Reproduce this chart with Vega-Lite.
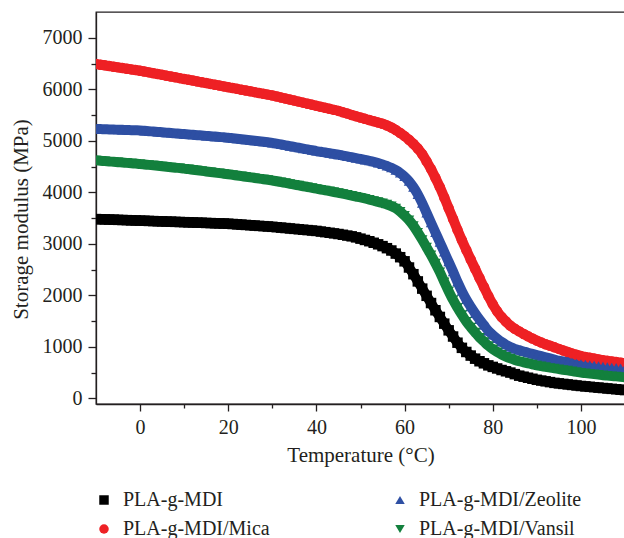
{
"$schema":"https://vega.github.io/schema/vega-lite/v6.json",
"width":529,"height":392,
"autosize":"none",
"padding":{"left":96,"top":12,"right":0,"bottom":134},
"background":"white",
"config":{"view":{"stroke":"#231f20","strokeWidth":1.3},"font":"Liberation Serif",
"axis":{"domainColor":"#231f20","domainWidth":1.3,"tickColor":"#231f20","tickWidth":1.3,"labelFont":"Liberation Serif","labelFontSize":20,"labelColor":"#231f20","titleFont":"Liberation Serif","titleFontSize":21,"titleFontWeight":"normal","titleColor":"#231f20","grid":false},
"legend":{"title":null,"orient":"none","legendX":-2,"legendY":478,"columns":2,"columnPadding":120,"rowPadding":9,"symbolSize":90,"symbolStrokeWidth":0,"labelFontSize":20,"labelFont":"Liberation Serif","labelColor":"#231f20","labelOffset":9,"labelLimit":0,"padding":0}},
"data":{"values":[
{"s":"PLA-g-MDI","t":-10,"v":3480},{"s":"PLA-g-MDI","t":-9,"v":3477},{"s":"PLA-g-MDI","t":-8,"v":3474},{"s":"PLA-g-MDI","t":-7,"v":3471},{"s":"PLA-g-MDI","t":-6,"v":3468},{"s":"PLA-g-MDI","t":-5,"v":3465},{"s":"PLA-g-MDI","t":-4,"v":3462},{"s":"PLA-g-MDI","t":-3,"v":3459},{"s":"PLA-g-MDI","t":-2,"v":3456},{"s":"PLA-g-MDI","t":-1,"v":3453},
{"s":"PLA-g-MDI","t":0,"v":3450},{"s":"PLA-g-MDI","t":1,"v":3447},{"s":"PLA-g-MDI","t":2,"v":3444},{"s":"PLA-g-MDI","t":3,"v":3441},{"s":"PLA-g-MDI","t":4,"v":3438},{"s":"PLA-g-MDI","t":5,"v":3435},{"s":"PLA-g-MDI","t":6,"v":3432},{"s":"PLA-g-MDI","t":7,"v":3429},{"s":"PLA-g-MDI","t":8,"v":3426},{"s":"PLA-g-MDI","t":9,"v":3423},
{"s":"PLA-g-MDI","t":10,"v":3420},{"s":"PLA-g-MDI","t":11,"v":3417},{"s":"PLA-g-MDI","t":12,"v":3414},{"s":"PLA-g-MDI","t":13,"v":3411},{"s":"PLA-g-MDI","t":14,"v":3408},{"s":"PLA-g-MDI","t":15,"v":3405},{"s":"PLA-g-MDI","t":16,"v":3402},{"s":"PLA-g-MDI","t":17,"v":3399},{"s":"PLA-g-MDI","t":18,"v":3396},{"s":"PLA-g-MDI","t":19,"v":3393},
{"s":"PLA-g-MDI","t":20,"v":3390},{"s":"PLA-g-MDI","t":21,"v":3384},{"s":"PLA-g-MDI","t":22,"v":3378},{"s":"PLA-g-MDI","t":23,"v":3372},{"s":"PLA-g-MDI","t":24,"v":3366},{"s":"PLA-g-MDI","t":25,"v":3360},{"s":"PLA-g-MDI","t":26,"v":3354},{"s":"PLA-g-MDI","t":27,"v":3348},{"s":"PLA-g-MDI","t":28,"v":3342},{"s":"PLA-g-MDI","t":29,"v":3336},
{"s":"PLA-g-MDI","t":30,"v":3330},{"s":"PLA-g-MDI","t":31,"v":3322},{"s":"PLA-g-MDI","t":32,"v":3314},{"s":"PLA-g-MDI","t":33,"v":3306},{"s":"PLA-g-MDI","t":34,"v":3298},{"s":"PLA-g-MDI","t":35,"v":3290},{"s":"PLA-g-MDI","t":36,"v":3282},{"s":"PLA-g-MDI","t":37,"v":3274},{"s":"PLA-g-MDI","t":38,"v":3266},{"s":"PLA-g-MDI","t":39,"v":3258},
{"s":"PLA-g-MDI","t":40,"v":3250},{"s":"PLA-g-MDI","t":41,"v":3238},{"s":"PLA-g-MDI","t":42,"v":3226},{"s":"PLA-g-MDI","t":43,"v":3214},{"s":"PLA-g-MDI","t":44,"v":3202},{"s":"PLA-g-MDI","t":45,"v":3190},{"s":"PLA-g-MDI","t":46,"v":3175},{"s":"PLA-g-MDI","t":47,"v":3160},{"s":"PLA-g-MDI","t":48,"v":3145},{"s":"PLA-g-MDI","t":49,"v":3125},
{"s":"PLA-g-MDI","t":50,"v":3100},{"s":"PLA-g-MDI","t":51,"v":3075},{"s":"PLA-g-MDI","t":52,"v":3050},{"s":"PLA-g-MDI","t":53,"v":3020},{"s":"PLA-g-MDI","t":54,"v":2990},{"s":"PLA-g-MDI","t":55,"v":2955},{"s":"PLA-g-MDI","t":56,"v":2915},{"s":"PLA-g-MDI","t":57,"v":2870},{"s":"PLA-g-MDI","t":58,"v":2810},{"s":"PLA-g-MDI","t":59,"v":2740},
{"s":"PLA-g-MDI","t":60,"v":2660},{"s":"PLA-g-MDI","t":61,"v":2540},{"s":"PLA-g-MDI","t":62,"v":2410},{"s":"PLA-g-MDI","t":63,"v":2270},{"s":"PLA-g-MDI","t":64,"v":2130},{"s":"PLA-g-MDI","t":65,"v":1990},{"s":"PLA-g-MDI","t":66,"v":1850},{"s":"PLA-g-MDI","t":67,"v":1710},{"s":"PLA-g-MDI","t":68,"v":1580},{"s":"PLA-g-MDI","t":69,"v":1450},
{"s":"PLA-g-MDI","t":70,"v":1320},{"s":"PLA-g-MDI","t":71,"v":1200},{"s":"PLA-g-MDI","t":72,"v":1080},{"s":"PLA-g-MDI","t":73,"v":980},{"s":"PLA-g-MDI","t":74,"v":900},{"s":"PLA-g-MDI","t":75,"v":830},{"s":"PLA-g-MDI","t":76,"v":770},{"s":"PLA-g-MDI","t":77,"v":720},{"s":"PLA-g-MDI","t":78,"v":680},{"s":"PLA-g-MDI","t":79,"v":640},
{"s":"PLA-g-MDI","t":80,"v":610},{"s":"PLA-g-MDI","t":81,"v":580},{"s":"PLA-g-MDI","t":82,"v":550},{"s":"PLA-g-MDI","t":83,"v":525},{"s":"PLA-g-MDI","t":84,"v":500},{"s":"PLA-g-MDI","t":85,"v":470},{"s":"PLA-g-MDI","t":86,"v":440},{"s":"PLA-g-MDI","t":87,"v":420},{"s":"PLA-g-MDI","t":88,"v":400},{"s":"PLA-g-MDI","t":89,"v":380},
{"s":"PLA-g-MDI","t":90,"v":360},{"s":"PLA-g-MDI","t":91,"v":345},{"s":"PLA-g-MDI","t":92,"v":330},{"s":"PLA-g-MDI","t":93,"v":315},{"s":"PLA-g-MDI","t":94,"v":300},{"s":"PLA-g-MDI","t":95,"v":290},{"s":"PLA-g-MDI","t":96,"v":280},{"s":"PLA-g-MDI","t":97,"v":270},{"s":"PLA-g-MDI","t":98,"v":260},{"s":"PLA-g-MDI","t":99,"v":250},
{"s":"PLA-g-MDI","t":100,"v":240},{"s":"PLA-g-MDI","t":101,"v":232},{"s":"PLA-g-MDI","t":102,"v":224},{"s":"PLA-g-MDI","t":103,"v":216},{"s":"PLA-g-MDI","t":104,"v":208},{"s":"PLA-g-MDI","t":105,"v":200},{"s":"PLA-g-MDI","t":106,"v":192},{"s":"PLA-g-MDI","t":107,"v":184},{"s":"PLA-g-MDI","t":108,"v":176},{"s":"PLA-g-MDI","t":109,"v":168},{"s":"PLA-g-MDI","t":110,"v":160},
{"s":"PLA-g-MDI/Mica","t":-10,"v":6490},{"s":"PLA-g-MDI/Mica","t":-9,"v":6477},{"s":"PLA-g-MDI/Mica","t":-8,"v":6464},{"s":"PLA-g-MDI/Mica","t":-7,"v":6451},{"s":"PLA-g-MDI/Mica","t":-6,"v":6438},{"s":"PLA-g-MDI/Mica","t":-5,"v":6425},{"s":"PLA-g-MDI/Mica","t":-4,"v":6412},{"s":"PLA-g-MDI/Mica","t":-3,"v":6399},{"s":"PLA-g-MDI/Mica","t":-2,"v":6386},{"s":"PLA-g-MDI/Mica","t":-1,"v":6373},
{"s":"PLA-g-MDI/Mica","t":0,"v":6360},{"s":"PLA-g-MDI/Mica","t":1,"v":6344},{"s":"PLA-g-MDI/Mica","t":2,"v":6328},{"s":"PLA-g-MDI/Mica","t":3,"v":6312},{"s":"PLA-g-MDI/Mica","t":4,"v":6296},{"s":"PLA-g-MDI/Mica","t":5,"v":6280},{"s":"PLA-g-MDI/Mica","t":6,"v":6264},{"s":"PLA-g-MDI/Mica","t":7,"v":6248},{"s":"PLA-g-MDI/Mica","t":8,"v":6232},{"s":"PLA-g-MDI/Mica","t":9,"v":6216},
{"s":"PLA-g-MDI/Mica","t":10,"v":6200},{"s":"PLA-g-MDI/Mica","t":11,"v":6184},{"s":"PLA-g-MDI/Mica","t":12,"v":6168},{"s":"PLA-g-MDI/Mica","t":13,"v":6152},{"s":"PLA-g-MDI/Mica","t":14,"v":6136},{"s":"PLA-g-MDI/Mica","t":15,"v":6120},{"s":"PLA-g-MDI/Mica","t":16,"v":6104},{"s":"PLA-g-MDI/Mica","t":17,"v":6088},{"s":"PLA-g-MDI/Mica","t":18,"v":6072},{"s":"PLA-g-MDI/Mica","t":19,"v":6056},
{"s":"PLA-g-MDI/Mica","t":20,"v":6040},{"s":"PLA-g-MDI/Mica","t":21,"v":6024},{"s":"PLA-g-MDI/Mica","t":22,"v":6008},{"s":"PLA-g-MDI/Mica","t":23,"v":5992},{"s":"PLA-g-MDI/Mica","t":24,"v":5976},{"s":"PLA-g-MDI/Mica","t":25,"v":5960},{"s":"PLA-g-MDI/Mica","t":26,"v":5944},{"s":"PLA-g-MDI/Mica","t":27,"v":5928},{"s":"PLA-g-MDI/Mica","t":28,"v":5912},{"s":"PLA-g-MDI/Mica","t":29,"v":5896},
{"s":"PLA-g-MDI/Mica","t":30,"v":5880},{"s":"PLA-g-MDI/Mica","t":31,"v":5860},{"s":"PLA-g-MDI/Mica","t":32,"v":5840},{"s":"PLA-g-MDI/Mica","t":33,"v":5820},{"s":"PLA-g-MDI/Mica","t":34,"v":5800},{"s":"PLA-g-MDI/Mica","t":35,"v":5780},{"s":"PLA-g-MDI/Mica","t":36,"v":5760},{"s":"PLA-g-MDI/Mica","t":37,"v":5740},{"s":"PLA-g-MDI/Mica","t":38,"v":5720},{"s":"PLA-g-MDI/Mica","t":39,"v":5700},
{"s":"PLA-g-MDI/Mica","t":40,"v":5680},{"s":"PLA-g-MDI/Mica","t":41,"v":5660},{"s":"PLA-g-MDI/Mica","t":42,"v":5640},{"s":"PLA-g-MDI/Mica","t":43,"v":5620},{"s":"PLA-g-MDI/Mica","t":44,"v":5600},{"s":"PLA-g-MDI/Mica","t":45,"v":5580},{"s":"PLA-g-MDI/Mica","t":46,"v":5554},{"s":"PLA-g-MDI/Mica","t":47,"v":5528},{"s":"PLA-g-MDI/Mica","t":48,"v":5502},{"s":"PLA-g-MDI/Mica","t":49,"v":5476},
{"s":"PLA-g-MDI/Mica","t":50,"v":5450},{"s":"PLA-g-MDI/Mica","t":51,"v":5426},{"s":"PLA-g-MDI/Mica","t":52,"v":5402},{"s":"PLA-g-MDI/Mica","t":53,"v":5378},{"s":"PLA-g-MDI/Mica","t":54,"v":5354},{"s":"PLA-g-MDI/Mica","t":55,"v":5330},{"s":"PLA-g-MDI/Mica","t":56,"v":5298},{"s":"PLA-g-MDI/Mica","t":57,"v":5258},{"s":"PLA-g-MDI/Mica","t":58,"v":5210},{"s":"PLA-g-MDI/Mica","t":59,"v":5152},
{"s":"PLA-g-MDI/Mica","t":60,"v":5090},{"s":"PLA-g-MDI/Mica","t":61,"v":5020},{"s":"PLA-g-MDI/Mica","t":62,"v":4940},{"s":"PLA-g-MDI/Mica","t":63,"v":4850},{"s":"PLA-g-MDI/Mica","t":64,"v":4740},{"s":"PLA-g-MDI/Mica","t":65,"v":4600},{"s":"PLA-g-MDI/Mica","t":66,"v":4450},{"s":"PLA-g-MDI/Mica","t":67,"v":4280},{"s":"PLA-g-MDI/Mica","t":68,"v":4100},{"s":"PLA-g-MDI/Mica","t":69,"v":3900},
{"s":"PLA-g-MDI/Mica","t":70,"v":3690},{"s":"PLA-g-MDI/Mica","t":71,"v":3480},{"s":"PLA-g-MDI/Mica","t":72,"v":3270},{"s":"PLA-g-MDI/Mica","t":73,"v":3070},{"s":"PLA-g-MDI/Mica","t":74,"v":2880},{"s":"PLA-g-MDI/Mica","t":75,"v":2695},{"s":"PLA-g-MDI/Mica","t":76,"v":2515},{"s":"PLA-g-MDI/Mica","t":77,"v":2335},{"s":"PLA-g-MDI/Mica","t":78,"v":2160},{"s":"PLA-g-MDI/Mica","t":79,"v":1985},
{"s":"PLA-g-MDI/Mica","t":80,"v":1825},{"s":"PLA-g-MDI/Mica","t":81,"v":1690},{"s":"PLA-g-MDI/Mica","t":82,"v":1580},{"s":"PLA-g-MDI/Mica","t":83,"v":1490},{"s":"PLA-g-MDI/Mica","t":84,"v":1410},{"s":"PLA-g-MDI/Mica","t":85,"v":1350},{"s":"PLA-g-MDI/Mica","t":86,"v":1300},{"s":"PLA-g-MDI/Mica","t":87,"v":1250},{"s":"PLA-g-MDI/Mica","t":88,"v":1205},{"s":"PLA-g-MDI/Mica","t":89,"v":1160},
{"s":"PLA-g-MDI/Mica","t":90,"v":1120},{"s":"PLA-g-MDI/Mica","t":91,"v":1085},{"s":"PLA-g-MDI/Mica","t":92,"v":1050},{"s":"PLA-g-MDI/Mica","t":93,"v":1020},{"s":"PLA-g-MDI/Mica","t":94,"v":990},{"s":"PLA-g-MDI/Mica","t":95,"v":960},{"s":"PLA-g-MDI/Mica","t":96,"v":930},{"s":"PLA-g-MDI/Mica","t":97,"v":900},{"s":"PLA-g-MDI/Mica","t":98,"v":872},{"s":"PLA-g-MDI/Mica","t":99,"v":845},
{"s":"PLA-g-MDI/Mica","t":100,"v":820},{"s":"PLA-g-MDI/Mica","t":101,"v":804},{"s":"PLA-g-MDI/Mica","t":102,"v":788},{"s":"PLA-g-MDI/Mica","t":103,"v":772},{"s":"PLA-g-MDI/Mica","t":104,"v":756},{"s":"PLA-g-MDI/Mica","t":105,"v":740},{"s":"PLA-g-MDI/Mica","t":106,"v":728},{"s":"PLA-g-MDI/Mica","t":107,"v":716},{"s":"PLA-g-MDI/Mica","t":108,"v":704},{"s":"PLA-g-MDI/Mica","t":109,"v":692},{"s":"PLA-g-MDI/Mica","t":110,"v":680},
{"s":"PLA-g-MDI/Zeolite","t":-10,"v":5230},{"s":"PLA-g-MDI/Zeolite","t":-9,"v":5227},{"s":"PLA-g-MDI/Zeolite","t":-8,"v":5224},{"s":"PLA-g-MDI/Zeolite","t":-7,"v":5221},{"s":"PLA-g-MDI/Zeolite","t":-6,"v":5218},{"s":"PLA-g-MDI/Zeolite","t":-5,"v":5215},{"s":"PLA-g-MDI/Zeolite","t":-4,"v":5212},{"s":"PLA-g-MDI/Zeolite","t":-3,"v":5209},{"s":"PLA-g-MDI/Zeolite","t":-2,"v":5206},{"s":"PLA-g-MDI/Zeolite","t":-1,"v":5203},
{"s":"PLA-g-MDI/Zeolite","t":0,"v":5200},{"s":"PLA-g-MDI/Zeolite","t":1,"v":5193},{"s":"PLA-g-MDI/Zeolite","t":2,"v":5186},{"s":"PLA-g-MDI/Zeolite","t":3,"v":5179},{"s":"PLA-g-MDI/Zeolite","t":4,"v":5172},{"s":"PLA-g-MDI/Zeolite","t":5,"v":5165},{"s":"PLA-g-MDI/Zeolite","t":6,"v":5158},{"s":"PLA-g-MDI/Zeolite","t":7,"v":5151},{"s":"PLA-g-MDI/Zeolite","t":8,"v":5144},{"s":"PLA-g-MDI/Zeolite","t":9,"v":5137},
{"s":"PLA-g-MDI/Zeolite","t":10,"v":5130},{"s":"PLA-g-MDI/Zeolite","t":11,"v":5123},{"s":"PLA-g-MDI/Zeolite","t":12,"v":5116},{"s":"PLA-g-MDI/Zeolite","t":13,"v":5109},{"s":"PLA-g-MDI/Zeolite","t":14,"v":5102},{"s":"PLA-g-MDI/Zeolite","t":15,"v":5095},{"s":"PLA-g-MDI/Zeolite","t":16,"v":5088},{"s":"PLA-g-MDI/Zeolite","t":17,"v":5081},{"s":"PLA-g-MDI/Zeolite","t":18,"v":5074},{"s":"PLA-g-MDI/Zeolite","t":19,"v":5067},
{"s":"PLA-g-MDI/Zeolite","t":20,"v":5060},{"s":"PLA-g-MDI/Zeolite","t":21,"v":5050},{"s":"PLA-g-MDI/Zeolite","t":22,"v":5040},{"s":"PLA-g-MDI/Zeolite","t":23,"v":5030},{"s":"PLA-g-MDI/Zeolite","t":24,"v":5020},{"s":"PLA-g-MDI/Zeolite","t":25,"v":5010},{"s":"PLA-g-MDI/Zeolite","t":26,"v":5000},{"s":"PLA-g-MDI/Zeolite","t":27,"v":4990},{"s":"PLA-g-MDI/Zeolite","t":28,"v":4980},{"s":"PLA-g-MDI/Zeolite","t":29,"v":4970},
{"s":"PLA-g-MDI/Zeolite","t":30,"v":4960},{"s":"PLA-g-MDI/Zeolite","t":31,"v":4944},{"s":"PLA-g-MDI/Zeolite","t":32,"v":4928},{"s":"PLA-g-MDI/Zeolite","t":33,"v":4912},{"s":"PLA-g-MDI/Zeolite","t":34,"v":4896},{"s":"PLA-g-MDI/Zeolite","t":35,"v":4880},{"s":"PLA-g-MDI/Zeolite","t":36,"v":4864},{"s":"PLA-g-MDI/Zeolite","t":37,"v":4848},{"s":"PLA-g-MDI/Zeolite","t":38,"v":4832},{"s":"PLA-g-MDI/Zeolite","t":39,"v":4816},
{"s":"PLA-g-MDI/Zeolite","t":40,"v":4800},{"s":"PLA-g-MDI/Zeolite","t":41,"v":4786},{"s":"PLA-g-MDI/Zeolite","t":42,"v":4772},{"s":"PLA-g-MDI/Zeolite","t":43,"v":4758},{"s":"PLA-g-MDI/Zeolite","t":44,"v":4744},{"s":"PLA-g-MDI/Zeolite","t":45,"v":4730},{"s":"PLA-g-MDI/Zeolite","t":46,"v":4713},{"s":"PLA-g-MDI/Zeolite","t":47,"v":4696},{"s":"PLA-g-MDI/Zeolite","t":48,"v":4680},{"s":"PLA-g-MDI/Zeolite","t":49,"v":4663},
{"s":"PLA-g-MDI/Zeolite","t":50,"v":4647},{"s":"PLA-g-MDI/Zeolite","t":51,"v":4630},{"s":"PLA-g-MDI/Zeolite","t":52,"v":4612},{"s":"PLA-g-MDI/Zeolite","t":53,"v":4592},{"s":"PLA-g-MDI/Zeolite","t":54,"v":4568},{"s":"PLA-g-MDI/Zeolite","t":55,"v":4542},{"s":"PLA-g-MDI/Zeolite","t":56,"v":4510},{"s":"PLA-g-MDI/Zeolite","t":57,"v":4475},{"s":"PLA-g-MDI/Zeolite","t":58,"v":4430},{"s":"PLA-g-MDI/Zeolite","t":59,"v":4375},
{"s":"PLA-g-MDI/Zeolite","t":60,"v":4305},{"s":"PLA-g-MDI/Zeolite","t":61,"v":4215},{"s":"PLA-g-MDI/Zeolite","t":62,"v":4100},{"s":"PLA-g-MDI/Zeolite","t":63,"v":3960},{"s":"PLA-g-MDI/Zeolite","t":64,"v":3790},{"s":"PLA-g-MDI/Zeolite","t":65,"v":3600},{"s":"PLA-g-MDI/Zeolite","t":66,"v":3410},{"s":"PLA-g-MDI/Zeolite","t":67,"v":3220},{"s":"PLA-g-MDI/Zeolite","t":68,"v":3030},{"s":"PLA-g-MDI/Zeolite","t":69,"v":2840},
{"s":"PLA-g-MDI/Zeolite","t":70,"v":2650},{"s":"PLA-g-MDI/Zeolite","t":71,"v":2460},{"s":"PLA-g-MDI/Zeolite","t":72,"v":2260},{"s":"PLA-g-MDI/Zeolite","t":73,"v":2080},{"s":"PLA-g-MDI/Zeolite","t":74,"v":1920},{"s":"PLA-g-MDI/Zeolite","t":75,"v":1780},{"s":"PLA-g-MDI/Zeolite","t":76,"v":1650},{"s":"PLA-g-MDI/Zeolite","t":77,"v":1530},{"s":"PLA-g-MDI/Zeolite","t":78,"v":1420},{"s":"PLA-g-MDI/Zeolite","t":79,"v":1310},
{"s":"PLA-g-MDI/Zeolite","t":80,"v":1230},{"s":"PLA-g-MDI/Zeolite","t":81,"v":1160},{"s":"PLA-g-MDI/Zeolite","t":82,"v":1095},{"s":"PLA-g-MDI/Zeolite","t":83,"v":1040},{"s":"PLA-g-MDI/Zeolite","t":84,"v":995},{"s":"PLA-g-MDI/Zeolite","t":85,"v":960},{"s":"PLA-g-MDI/Zeolite","t":86,"v":935},{"s":"PLA-g-MDI/Zeolite","t":87,"v":910},{"s":"PLA-g-MDI/Zeolite","t":88,"v":885},{"s":"PLA-g-MDI/Zeolite","t":89,"v":862},
{"s":"PLA-g-MDI/Zeolite","t":90,"v":840},{"s":"PLA-g-MDI/Zeolite","t":91,"v":818},{"s":"PLA-g-MDI/Zeolite","t":92,"v":796},{"s":"PLA-g-MDI/Zeolite","t":93,"v":774},{"s":"PLA-g-MDI/Zeolite","t":94,"v":752},{"s":"PLA-g-MDI/Zeolite","t":95,"v":730},{"s":"PLA-g-MDI/Zeolite","t":96,"v":718},{"s":"PLA-g-MDI/Zeolite","t":97,"v":706},{"s":"PLA-g-MDI/Zeolite","t":98,"v":694},{"s":"PLA-g-MDI/Zeolite","t":99,"v":682},
{"s":"PLA-g-MDI/Zeolite","t":100,"v":670},{"s":"PLA-g-MDI/Zeolite","t":101,"v":660},{"s":"PLA-g-MDI/Zeolite","t":102,"v":650},{"s":"PLA-g-MDI/Zeolite","t":103,"v":640},{"s":"PLA-g-MDI/Zeolite","t":104,"v":630},{"s":"PLA-g-MDI/Zeolite","t":105,"v":620},{"s":"PLA-g-MDI/Zeolite","t":106,"v":612},{"s":"PLA-g-MDI/Zeolite","t":107,"v":604},{"s":"PLA-g-MDI/Zeolite","t":108,"v":596},{"s":"PLA-g-MDI/Zeolite","t":109,"v":588},{"s":"PLA-g-MDI/Zeolite","t":110,"v":580},
{"s":"PLA-g-MDI/Vansil","t":-10,"v":4620},{"s":"PLA-g-MDI/Vansil","t":-9,"v":4613},{"s":"PLA-g-MDI/Vansil","t":-8,"v":4606},{"s":"PLA-g-MDI/Vansil","t":-7,"v":4599},{"s":"PLA-g-MDI/Vansil","t":-6,"v":4592},{"s":"PLA-g-MDI/Vansil","t":-5,"v":4585},{"s":"PLA-g-MDI/Vansil","t":-4,"v":4578},{"s":"PLA-g-MDI/Vansil","t":-3,"v":4571},{"s":"PLA-g-MDI/Vansil","t":-2,"v":4564},{"s":"PLA-g-MDI/Vansil","t":-1,"v":4557},
{"s":"PLA-g-MDI/Vansil","t":0,"v":4550},{"s":"PLA-g-MDI/Vansil","t":1,"v":4541},{"s":"PLA-g-MDI/Vansil","t":2,"v":4532},{"s":"PLA-g-MDI/Vansil","t":3,"v":4523},{"s":"PLA-g-MDI/Vansil","t":4,"v":4514},{"s":"PLA-g-MDI/Vansil","t":5,"v":4505},{"s":"PLA-g-MDI/Vansil","t":6,"v":4496},{"s":"PLA-g-MDI/Vansil","t":7,"v":4487},{"s":"PLA-g-MDI/Vansil","t":8,"v":4478},{"s":"PLA-g-MDI/Vansil","t":9,"v":4469},
{"s":"PLA-g-MDI/Vansil","t":10,"v":4460},{"s":"PLA-g-MDI/Vansil","t":11,"v":4449},{"s":"PLA-g-MDI/Vansil","t":12,"v":4438},{"s":"PLA-g-MDI/Vansil","t":13,"v":4427},{"s":"PLA-g-MDI/Vansil","t":14,"v":4416},{"s":"PLA-g-MDI/Vansil","t":15,"v":4405},{"s":"PLA-g-MDI/Vansil","t":16,"v":4394},{"s":"PLA-g-MDI/Vansil","t":17,"v":4383},{"s":"PLA-g-MDI/Vansil","t":18,"v":4372},{"s":"PLA-g-MDI/Vansil","t":19,"v":4361},
{"s":"PLA-g-MDI/Vansil","t":20,"v":4350},{"s":"PLA-g-MDI/Vansil","t":21,"v":4338},{"s":"PLA-g-MDI/Vansil","t":22,"v":4326},{"s":"PLA-g-MDI/Vansil","t":23,"v":4314},{"s":"PLA-g-MDI/Vansil","t":24,"v":4302},{"s":"PLA-g-MDI/Vansil","t":25,"v":4290},{"s":"PLA-g-MDI/Vansil","t":26,"v":4278},{"s":"PLA-g-MDI/Vansil","t":27,"v":4266},{"s":"PLA-g-MDI/Vansil","t":28,"v":4254},{"s":"PLA-g-MDI/Vansil","t":29,"v":4242},
{"s":"PLA-g-MDI/Vansil","t":30,"v":4230},{"s":"PLA-g-MDI/Vansil","t":31,"v":4214},{"s":"PLA-g-MDI/Vansil","t":32,"v":4198},{"s":"PLA-g-MDI/Vansil","t":33,"v":4182},{"s":"PLA-g-MDI/Vansil","t":34,"v":4166},{"s":"PLA-g-MDI/Vansil","t":35,"v":4150},{"s":"PLA-g-MDI/Vansil","t":36,"v":4134},{"s":"PLA-g-MDI/Vansil","t":37,"v":4118},{"s":"PLA-g-MDI/Vansil","t":38,"v":4102},{"s":"PLA-g-MDI/Vansil","t":39,"v":4086},
{"s":"PLA-g-MDI/Vansil","t":40,"v":4070},{"s":"PLA-g-MDI/Vansil","t":41,"v":4054},{"s":"PLA-g-MDI/Vansil","t":42,"v":4038},{"s":"PLA-g-MDI/Vansil","t":43,"v":4022},{"s":"PLA-g-MDI/Vansil","t":44,"v":4006},{"s":"PLA-g-MDI/Vansil","t":45,"v":3990},{"s":"PLA-g-MDI/Vansil","t":46,"v":3972},{"s":"PLA-g-MDI/Vansil","t":47,"v":3954},{"s":"PLA-g-MDI/Vansil","t":48,"v":3936},{"s":"PLA-g-MDI/Vansil","t":49,"v":3918},
{"s":"PLA-g-MDI/Vansil","t":50,"v":3900},{"s":"PLA-g-MDI/Vansil","t":51,"v":3880},{"s":"PLA-g-MDI/Vansil","t":52,"v":3858},{"s":"PLA-g-MDI/Vansil","t":53,"v":3836},{"s":"PLA-g-MDI/Vansil","t":54,"v":3814},{"s":"PLA-g-MDI/Vansil","t":55,"v":3790},{"s":"PLA-g-MDI/Vansil","t":56,"v":3765},{"s":"PLA-g-MDI/Vansil","t":57,"v":3732},{"s":"PLA-g-MDI/Vansil","t":58,"v":3688},{"s":"PLA-g-MDI/Vansil","t":59,"v":3625},
{"s":"PLA-g-MDI/Vansil","t":60,"v":3548},{"s":"PLA-g-MDI/Vansil","t":61,"v":3460},{"s":"PLA-g-MDI/Vansil","t":62,"v":3350},{"s":"PLA-g-MDI/Vansil","t":63,"v":3220},{"s":"PLA-g-MDI/Vansil","t":64,"v":3080},{"s":"PLA-g-MDI/Vansil","t":65,"v":2930},{"s":"PLA-g-MDI/Vansil","t":66,"v":2780},{"s":"PLA-g-MDI/Vansil","t":67,"v":2620},{"s":"PLA-g-MDI/Vansil","t":68,"v":2450},{"s":"PLA-g-MDI/Vansil","t":69,"v":2260},
{"s":"PLA-g-MDI/Vansil","t":70,"v":2080},{"s":"PLA-g-MDI/Vansil","t":71,"v":1910},{"s":"PLA-g-MDI/Vansil","t":72,"v":1760},{"s":"PLA-g-MDI/Vansil","t":73,"v":1620},{"s":"PLA-g-MDI/Vansil","t":74,"v":1490},{"s":"PLA-g-MDI/Vansil","t":75,"v":1380},{"s":"PLA-g-MDI/Vansil","t":76,"v":1280},{"s":"PLA-g-MDI/Vansil","t":77,"v":1180},{"s":"PLA-g-MDI/Vansil","t":78,"v":1100},{"s":"PLA-g-MDI/Vansil","t":79,"v":1020},
{"s":"PLA-g-MDI/Vansil","t":80,"v":955},{"s":"PLA-g-MDI/Vansil","t":81,"v":900},{"s":"PLA-g-MDI/Vansil","t":82,"v":850},{"s":"PLA-g-MDI/Vansil","t":83,"v":810},{"s":"PLA-g-MDI/Vansil","t":84,"v":775},{"s":"PLA-g-MDI/Vansil","t":85,"v":745},{"s":"PLA-g-MDI/Vansil","t":86,"v":720},{"s":"PLA-g-MDI/Vansil","t":87,"v":700},{"s":"PLA-g-MDI/Vansil","t":88,"v":680},{"s":"PLA-g-MDI/Vansil","t":89,"v":660},
{"s":"PLA-g-MDI/Vansil","t":90,"v":640},{"s":"PLA-g-MDI/Vansil","t":91,"v":625},{"s":"PLA-g-MDI/Vansil","t":92,"v":610},{"s":"PLA-g-MDI/Vansil","t":93,"v":595},{"s":"PLA-g-MDI/Vansil","t":94,"v":582},{"s":"PLA-g-MDI/Vansil","t":95,"v":570},{"s":"PLA-g-MDI/Vansil","t":96,"v":556},{"s":"PLA-g-MDI/Vansil","t":97,"v":542},{"s":"PLA-g-MDI/Vansil","t":98,"v":528},{"s":"PLA-g-MDI/Vansil","t":99,"v":514},
{"s":"PLA-g-MDI/Vansil","t":100,"v":500},{"s":"PLA-g-MDI/Vansil","t":101,"v":490},{"s":"PLA-g-MDI/Vansil","t":102,"v":480},{"s":"PLA-g-MDI/Vansil","t":103,"v":470},{"s":"PLA-g-MDI/Vansil","t":104,"v":460},{"s":"PLA-g-MDI/Vansil","t":105,"v":450},{"s":"PLA-g-MDI/Vansil","t":106,"v":442},{"s":"PLA-g-MDI/Vansil","t":107,"v":434},{"s":"PLA-g-MDI/Vansil","t":108,"v":426},{"s":"PLA-g-MDI/Vansil","t":109,"v":418},{"s":"PLA-g-MDI/Vansil","t":110,"v":410}
]},
"encoding":{
"x":{"field":"t","type":"quantitative","scale":{"domain":[-10,110],"nice":false,"zero":false},
"axis":{"title":"Temperature (°C)","values":[0,10,20,30,40,50,60,70,80,90,100],"labelExpr":"datum.value % 20 === 0 ? datum.label : ''","tickSize":{"condition":{"test":"datum.value % 20 === 0","value":7},"value":4},"labelPadding":6,"titlePadding":7,"labelFlush":false,"labelOverlap":false}},
"y":{"field":"v","type":"quantitative","scale":{"domain":[-110,7500],"nice":false,"zero":false},
"axis":{"title":"Storage modulus (MPa)","format":"d","values":[0,500,1000,1500,2000,2500,3000,3500,4000,4500,5000,5500,6000,6500,7000],"labelExpr":"datum.value % 1000 === 0 ? datum.label : ''","tickSize":{"condition":{"test":"datum.value % 1000 === 0","value":8},"value":5},"labelPadding":6,"titlePadding":11,"titleY":207,"labelOverlap":false,"labelFlush":false}}
},
"layer":[
{"mark":{"type":"line","strokeWidth":10,"clip":true,"interpolate":"monotone"},
"encoding":{"stroke":{"field":"s","type":"nominal","scale":{"domain":["PLA-g-MDI","PLA-g-MDI/Mica","PLA-g-MDI/Zeolite","PLA-g-MDI/Vansil"],"range":["#000000","#ee2024","#2e4fa3","#13803d"]}}}},
{"mark":{"type":"point","filled":true,"opacity":1,"strokeWidth":0,"size":110,"clip":true},
"encoding":{
"color":{"field":"s","type":"nominal","scale":{"domain":["PLA-g-MDI","PLA-g-MDI/Mica","PLA-g-MDI/Zeolite","PLA-g-MDI/Vansil"],"range":["#000000","#ee2024","#2e4fa3","#13803d"]}},
"shape":{"field":"s","type":"nominal","scale":{"domain":["PLA-g-MDI","PLA-g-MDI/Mica","PLA-g-MDI/Zeolite","PLA-g-MDI/Vansil"],"range":["square","circle","triangle-up","triangle-down"]}}
}}
]
}
